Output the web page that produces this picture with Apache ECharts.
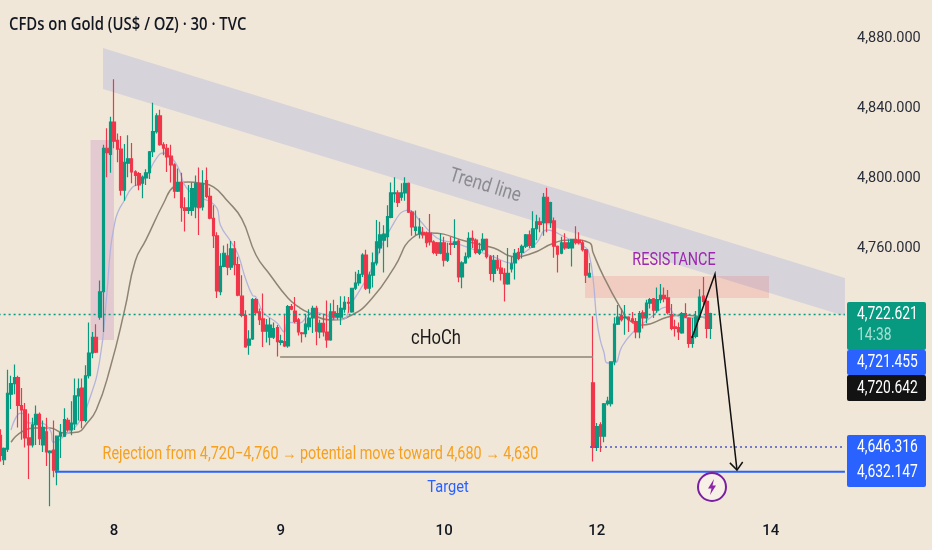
<!DOCTYPE html>
<html><head><meta charset="utf-8">
<style>html,body{margin:0;padding:0;background:#f0e7d8;overflow:hidden}#c{width:932px;height:550px}</style>
<script src="https://cdn.jsdelivr.net/npm/echarts@6/dist/echarts.min.js"></script></head>
<body><div id="c"></div>
<script>
const opens=[4653,4639,4645,4676.5,4682.5,4686,4670,4667.5,4651.5,4647.5,
4659,4665,4647.5,4655,4643,4644.5,4633,4652.5,4652.5,4661.5,
4656,4659.5,4675.5,4680,4661.5,4687,4700,4709,4720.5,4735,
4817,4813.5,4832,4821.5,4816.5,4793,4808.5,4811,4803.5,4802.5,
4797,4800,4803,4815,4826.5,4835.5,4819,4817,4812.5,4807.5,
4792.5,4797.5,4783,4781.5,4781.5,4783.5,4797,4783.5,4798.5,4789.5,
4777,4767,4735,4749.5,4755.5,4749,4759.5,4750.5,4732.5,4721.5,
4704.5,4708,4730.5,4723.5,4719.5,4712.5,4709,4709,4714.5,4706,
4706.5,4704,4726.5,4724,4719,4711.5,4711,4715,4720,4725.5,
4712,4717,4712,4707.5,4723.5,4720.5,4720.5,4725,4729,4723.5,
4737,4740,4745,4756,4737,4744.5,4751.5,4760,4764.5,4766.5,
4777.5,4791,4791.5,4789,4791.5,4797,4780.5,4770,4768,4769,
4768.5,4768.5,4763.5,4763,4757,4763,4753,4762.5,4762,4764,
4743.5,4751.5,4755,4765.5,4764.5,4757,4759,4765,4755,4745.5,
4753,4748.5,4745.5,4739.5,4748,4751.5,4757.5,4757.5,4761,4767.5,
4760.5,4771,4775,4774.5,4789,4774.5,4775.5,4761,4757,4763,
4760,4760,4765,4764.5,4763,4759,4743.5,4683,4646,4659,
4652.5,4671,4671,4695,4716.5,4721.5,4720,4720.5,4719.5,4718,
4712,4723,4720,4728.5,4731,4724.5,4730.5,4733,4731.5,4722,
4715,4714.5,4711.5,4722.5,4720,4705.5,4709.5,4720.5,4732.5,4729.5,
4714];
const closes=[4641.5,4645.5,4677,4682.5,4686,4670,4667.5,4651.5,4647.5,4659,
4665,4651,4657.5,4643.5,4644,4633,4652.5,4654.5,4662,4656,
4660,4675.5,4679.5,4661.5,4687,4700,4709,4700.5,4735,4817,
4814.5,4832,4821,4816.5,4793,4809,4811,4803.5,4801.5,4796,
4800.5,4803,4815,4826.5,4835.5,4819,4817,4812,4807.5,4792.5,
4797.5,4783,4781.5,4783,4794,4797,4783,4797,4789.5,4777,
4767,4735.5,4749.5,4757,4749,4759.5,4750.5,4733,4721.5,4703.5,
4708,4730.5,4723,4719,4712.5,4716,4716,4714,4706.5,4707,
4704,4726.5,4725,4718,4712,4711,4716.5,4720,4725.5,4712.5,
4717,4712,4707.5,4723.5,4720.5,4722.5,4725.5,4729,4728.5,4737,
4740,4745,4756,4737,4744.5,4751.5,4763.5,4767.5,4768,4778,
4791.5,4791.5,4786,4791.5,4797,4780.5,4772,4772,4772,4767.5,
4763,4763.5,4757.5,4757,4763,4753,4757,4762,4763.5,4743.5,
4751.5,4755,4765.5,4764.5,4757.5,4759,4765,4755,4745.5,4753,
4748.5,4745.5,4739.5,4745.5,4751,4757,4754,4761,4767.5,4761.5,
4771,4775,4773.5,4789,4774.5,4786,4761,4756.5,4763,4760,
4763,4765,4763,4763,4759,4744.5,4745.5,4646,4658,4652.5,
4671,4672.5,4695,4716.5,4720.5,4719,4720.5,4719,4718,4712,
4722.5,4720,4728.5,4730.5,4724.5,4730.5,4733,4731,4723,4714,
4714,4712,4722.5,4720.5,4705.5,4709.5,4720.5,4732,4729.5,4714,
4722.5];
const lows=[4638,4636,4643.5,4668,4676.5,4657.5,4650.5,4646,4628,4646,
4647.5,4647.5,4643.5,4635.5,4612.5,4629,4624.5,4640,4652,4655,
4653,4656,4661.5,4657,4660.5,4685.5,4697,4700,4719,4712,
4800.5,4803,4817,4809,4790,4787,4800.5,4797,4795.5,4793,
4788.5,4796,4799.5,4812,4825.5,4818.5,4813,4803.5,4797.5,4788.5,
4792,4775,4769.5,4779.5,4778.5,4777,4767.5,4781.5,4788.5,4776.5,
4760,4731.5,4733,4749,4744.5,4747.5,4744.5,4732.5,4720.5,4703,
4699,4707.5,4721.5,4716,4703.5,4706,4704.5,4708,4698,4704.5,
4703.5,4703,4724.5,4717,4710,4706,4709,4713,4711.5,4704.5,
4708.5,4709.5,4703,4707,4719,4719,4716,4723,4723,4723,
4736,4738.5,4743.5,4736,4734,4737.5,4750,4757,4746,4760.5,
4777,4786,4783.5,4787,4787,4780,4767,4767.5,4765.5,4765.5,
4760.5,4761.5,4756.5,4755.5,4756.5,4749.5,4752,4756,4760,4740.5,
4737,4751,4754,4760,4756.5,4756,4758,4754,4741.5,4740.5,
4747,4741.5,4729.5,4739,4746,4742,4753,4754,4760,4760,
4760,4764.5,4769,4767,4769,4771.5,4754.5,4746,4756.5,4759,
4759.5,4749.5,4762,4762,4758,4740,4743,4638,4644,4643.5,
4649,4670,4669.5,4693,4716,4718,4710.5,4712,4717,4708.5,
4708.5,4714,4717,4725.5,4720,4723,4728.5,4729,4722,4713,
4709.5,4707.5,4711,4720,4703,4703,4708.5,4719,4727.5,4708.5,
4708];
const highs=[4656.5,4646,4690.5,4687,4693.5,4687,4680,4671.5,4665.5,4663,
4670,4666,4661.5,4663,4644.5,4661.5,4652.5,4659.5,4668.5,4663,
4672.5,4685.5,4685.5,4685.5,4693,4717.5,4712,4716.5,4741.5,4819,
4828.5,4835,4856.5,4825.5,4824,4819.5,4824.5,4820,4804.5,4803.5,
4801.5,4805,4815.5,4843,4837,4839,4820.5,4819.5,4819,4808.5,
4805.5,4803,4789,4796,4797.5,4801.5,4806,4804.5,4806,4794.5,
4784.5,4769,4757,4761.5,4762.5,4764,4764,4755,4744.5,4724.5,
4713,4731.5,4731.5,4725.5,4734,4719.5,4720,4717.5,4716,4710.5,
4722.5,4727.5,4728,4732,4720,4712,4722.5,4725,4727,4727,
4719,4722.5,4730,4728.5,4730.5,4727.5,4732.5,4732.5,4732,4737,
4746.5,4747.5,4757,4759,4746.5,4757.5,4776,4775,4773,4784.5,
4797.5,4800.5,4793,4797,4800.5,4797.5,4781.5,4781.5,4777,4772,
4769.5,4779.5,4764.5,4763.5,4768.5,4766.5,4763,4766.5,4776.5,4765,
4752.5,4757.5,4769,4770,4765.5,4763,4768.5,4765.5,4756,4756,
4756,4753,4748.5,4760,4755,4759.5,4760,4762,4768,4770,
4781,4779,4777.5,4791.5,4794.5,4786.5,4777.5,4761.5,4766.5,4768.5,
4765,4765,4772.5,4769,4764.5,4759.5,4751.5,4721,4660,4660.5,
4671.5,4675,4695,4720.5,4727.5,4725.5,4727.5,4721,4723.5,4720,
4724,4724.5,4730.5,4731.5,4731.5,4737.5,4739.5,4737.5,4736,4728,
4719,4717.5,4723.5,4728.5,4720.5,4720,4724,4736.5,4743.5,4730.5,
4723];
// moving averages, read as [bar index, price]
const fastMa=[[3,4656],[5,4665],[6,4665.7],[8,4660],[11,4660],[14,4656],[15,4649],[19,4654.3],[22,4660],[25,4673],[28,4696],[30,4734],[31,4759],[32,4772],[33,4780],[35,4787.4],[37,4794.3],[39,4796.6],[41,4800.6],[44,4811.4],[46,4814.3],[48,4812],[50,4806.3],[53,4793],[61,4782.8],[62,4773],[65,4763.4],[67,4756],[69,4742.9],[71,4733],[72,4732],[74,4723.4],[78,4717],[80,4712],[81,4717.7],[84,4717],[88,4723.4],[96,4718.9],[99,4728.6],[104,4745.7],[110,4771.4],[115,4781.7],[118,4776],[123,4765.7],[128,4762.9],[139,4754.9],[144,4751.4],[146,4754.9],[151,4762.9],[154,4770.3],[159,4766.3],[165,4760],[166,4754.9],[167,4741.7],[168,4718.9],[169,4707.4],[170,4700.6],[171,4694.3],[173,4694.3],[175,4703.4],[178,4711.4],[183,4720],[188,4726.3],[190,4721.7],[194,4720],[199,4720.6]];
const slowMa=[[3,4649],[6,4654.9],[10,4657.1],[14,4657.1],[18,4654.3],[22,4654.9],[24,4658.9],[27,4667.4],[31,4692],[35,4724.6],[38,4752.6],[41,4764.6],[46,4785.7],[49,4795.4],[53,4797.7],[56,4797.1],[60,4794.9],[64,4786.8],[68,4776.6],[72,4756],[76,4744.6],[81,4731.4],[84,4726.3],[87,4722.9],[93,4718.9],[99,4721.7],[105,4732],[111,4749.1],[116,4765.7],[121,4768.6],[132,4763.4],[139,4760],[145,4754.9],[150,4757.1],[156,4762.9],[161,4764.6],[166,4762.9],[167,4757.1],[170,4743.4],[175,4724.6],[177,4718.9],[181,4716],[188,4720.6],[192,4721.7],[199,4720]];
// drawings, as [bar index, price]
const trendBand=[[28.9,4874.3],[237.9,4742.9],[237.9,4721.1],[28.9,4850.8]];
const impulseZone=[[25.4,4821.7],[32,4821.7],[32,4707.4],[25.4,4707.4]];
const resistanceZone=[[164.7,4744],[216.5,4744],[216.5,4731.4],[164.7,4731.4]];
const chochLine=[[78.8,4697.7],[167,4697.7]];
const targetLine=[[15.4,4632.147],[237.9,4632.147]];
const lowLine=[[166.1,4646.316],[237.9,4646.316]];
const priceLine=[[-0.5,4722],[237.9,4722]];
const movePath=[[194.8,4708.6],[201.3,4745.1],[207.5,4633.1]];
const moveHead=[[205.5,4637.2],[207.5,4633.1],[209.1,4637.7]];
const dayLabels={32:'8',79:'9',125:'10',168:'12',217:'14'};
const barSlots=239;
const priceTicks=[4760,4800,4840,4880];
const categories=Array.from({length:barSlots},(_,i)=>dayLabels[i]||'');
const candles=opens.map((o,k)=>[o,closes[k],lows[k],highs[k]]);

const UP='#089981',DOWN='#f0364a',FONT='Roboto';
function overlay(shapes,z){
  return {type:'custom',coordinateSystem:'cartesian2d',xAxisIndex:1,yAxisIndex:0,z,silent:true,clip:true,
    data:[[0,4700]],
    renderItem:(p,api)=>({type:'group',children:shapes.map(s=>({
      type:s.fill?'polygon':'polyline',
      shape:{points:s.pts.map(pt=>api.coord(pt))},
      style:s.fill?{fill:s.fill}:{fill:null,stroke:s.stroke,lineWidth:s.w,lineDash:s.dash||null,lineCap:'butt',lineJoin:'miter'}
    }))})};
}
function txt(x,y,t,size,fill,sx,rot){
  return {type:'text',x,y,z:50,silent:true,scaleX:sx,rotation:rot||0,style:{text:t,font:`${size}px ${FONT}`,fill,textAlign:'center',textVerticalAlign:'middle'}};
}
function tag(y,h,fill){return {type:'rect',z:40,silent:true,shape:{x:847,y,width:79,height:h,r:2},style:{fill}};}
function tagText(y,t,fill){return {type:'text',z:41,silent:true,x:857,y,scaleX:0.77,style:{text:t,font:`18px ${FONT}`,fill:fill||'#fff',textAlign:'left',textVerticalAlign:'middle'}};}

const chart=echarts.init(document.getElementById('c'),null,{renderer:'canvas'});
chart.setOption({
  animation:false,backgroundColor:'#f0e7d8',
  grid:{left:-1.4,top:3,width:barSlots*3.55,height:525,containLabel:false,outerBoundsMode:'none'},
  xAxis:[
    {type:'category',data:categories,boundaryGap:true,axisLine:{show:false},axisTick:{show:false},splitLine:{show:false},
     axisLabel:{interval:0,margin:-4,color:'#131722',fontFamily:FONT,fontSize:15,fontWeight:500,hideOverlap:false}},
    {type:'value',min:-0.5,max:barSlots-0.5,show:false,position:'top',splitLine:{show:false}}
  ],
  yAxis:[{type:'value',position:'right',min:4600,max:4900,interval:40,axisLine:{show:false},axisTick:{show:false},splitLine:{show:false},
    axisLabel:{margin:10,color:'#2a2e39',fontFamily:FONT,fontSize:14.5,padding:[3,0,0,0],
      formatter:v=>priceTicks.includes(v)?v.toLocaleString('en-US',{minimumFractionDigits:3}):''}}],
  series:[
    overlay([{pts:trendBand,fill:'#d6d4da'},{pts:impulseZone,fill:'rgba(156,39,176,0.15)'},{pts:resistanceZone,fill:'rgba(242,54,69,0.15)'}],1),
    {type:'line',data:slowMa,xAxisIndex:0,smooth:0.5,showSymbol:false,silent:true,z:2,lineStyle:{color:'#8f8474',width:1.5}},
    {type:'line',data:fastMa,xAxisIndex:0,smooth:0.5,showSymbol:false,silent:true,z:2,lineStyle:{color:'#b3b4dc',width:1.3}},
    {type:'candlestick',data:candles,xAxisIndex:0,barWidth:3,z:3,silent:true,
      itemStyle:{color:UP,color0:DOWN,borderColor:UP,borderColor0:DOWN,borderWidth:1.2}},
    overlay([
      {pts:chochLine,stroke:'#8f8474',w:1.5},
      {pts:priceLine,stroke:'#089981',w:1.5,dash:[2,3]},
      {pts:lowLine,stroke:'#4a54c8',w:1.5,dash:[2,3]},
      {pts:targetLine,stroke:'#2962ff',w:2},
      {pts:movePath,stroke:'#111',w:1.5},
      {pts:moveHead,stroke:'#111',w:1.5}
    ],5)
  ],
  graphic:{elements:[
    {type:'text',z:50,silent:true,x:9,y:25,scaleX:0.826,style:{text:'CFDs on Gold (US$ / OZ) · 30 · TVC',font:'600 18px "Open Sans"',fill:'#131722',textAlign:'left',textVerticalAlign:'middle'}},
    txt(485,186,'Trend line',20,'#8b8b90',0.85,-17*Math.PI/180),
    txt(436,339,'cHoCh',20,'#1a1a1a',0.83),
    txt(674,260,'RESISTANCE',18,'#9c27b0',0.8),
    txt(320.5,454,'Rejection from 4,720−4,760 → potential move toward 4,680 → 4,630',18,'#f7a01d',0.8),
    txt(448,488,'Target',17,'#2962ff',0.86),
    tag(302,48,'#089981'),tag(350,25,'#2962ff'),tag(375,26,'#131313'),tag(435,52,'#2962ff'),
    tagText(314,'4,722.621'),tagText(335,'14:38','#a6e0d3'),tagText(362,'4,721.455'),tagText(388,'4,720.642'),tagText(447,'4,646.316'),tagText(472,'4,632.147'),
    {type:'circle',z:45,silent:true,shape:{cx:712,cy:487,r:14},style:{fill:'#f6f0e6',stroke:'#7b1fa2',lineWidth:2}},
    {type:'polygon',z:46,silent:true,shape:{points:[[714,479],[708,488.5],[711.5,488.5],[710,495],[716,485.5],[712.5,485.5]]},style:{fill:'#8e24aa'}}
  ]}
});
</script></body></html>
